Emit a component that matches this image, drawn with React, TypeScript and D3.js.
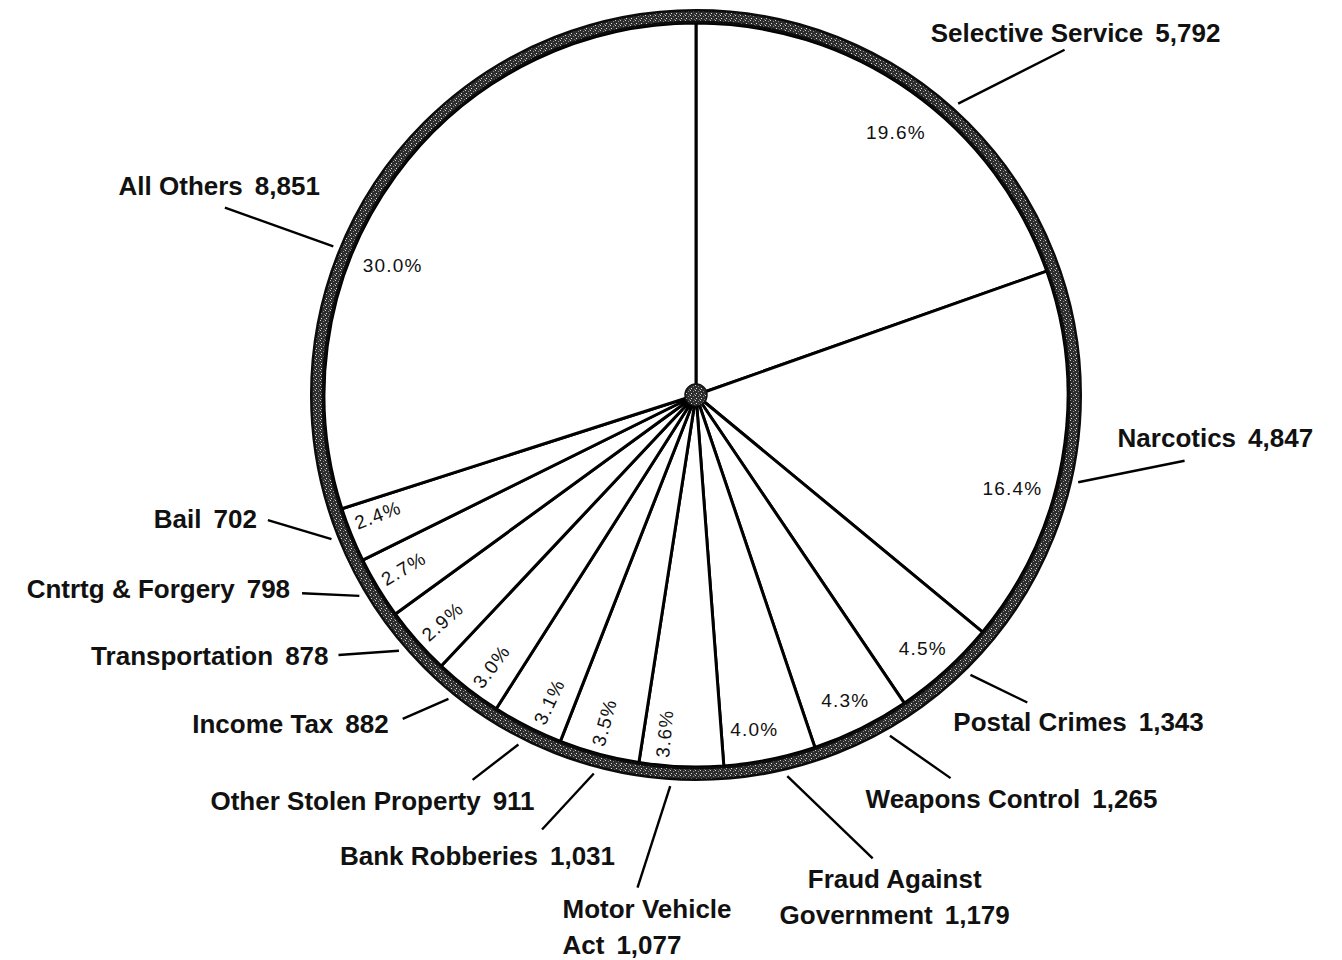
import React from 'react';
import * as d3 from 'd3';

// Offense categories, clockwise from 12 o'clock
const categories = [
    'Selective Service',
    'Narcotics',
    'Postal Crimes',
    'Weapons Control',
    'Fraud Against\nGovernment',
    'Motor Vehicle\nAct',
    'Bank Robberies',
    'Other Stolen Property',
    'Income Tax',
    'Transportation',
    'Cntrtg & Forgery',
    'Bail',
    'All Others',
];

const counts = [5792, 4847, 1343, 1265, 1179, 1077, 1031, 911, 882, 878, 798, 702, 8851];

// percentages as printed on the chart
const pctLabels = ['19.6', '16.4', '4.5', '4.3', '4.0', '3.6', '3.5', '3.1', '3.0', '2.9', '2.7', '2.4', '30.0'];

// Label layout (annotation placement around the rim)
const leaderShift = [6.7, 2.8, -2.2, -3.3, -2, 1.5, 0, 0, 1.3, 0.7, 0.4, 0.5, -13.8];
const leaderEndShift = [11.6, -2.4, -4.9, -7.25, -9.4, 4.5, 4.4, 3.2, 4.3, 5.4, 4.5, 5.8, -14.4];
const leaderEndRadius = [505, 493, 452, 460, 496, 496, 461, 445, 437, 442, 441, 446, 507];
const textOffset: [number, number][] = [
    [11, -8], [-67, -14], [-74, 29], [-85, 30], [22, 30], [-75, 30], [73, 35],
    [62, 30], [-14, 14], [-10, 10], [-12, 5], [-11, 8], [95, -13],
];
const textAnchor = ['middle', 'start', 'start', 'start', 'middle', 'start', 'end', 'end', 'end', 'end', 'end', 'end', 'end'];
const pctShift = [2, 6.4, 0.4, 0.3, 1.6, 3, 0.5, -1.4, -0.9, -0.4, 0.5, 1.4, -12.9];

const W = 1342;
const H = 960;
const cx = 696;
const cy = 395;
const pieR = 372;
const ringW = 14;

const rad = (deg: number) => (deg * Math.PI) / 180;
const polar = (a: number, r: number): [number, number] => [cx + r * Math.sin(a), cy - r * Math.cos(a)];

const labelFont = '"Liberation Sans", Arial, sans-serif';

const App: React.FC = () => {
    const pie = d3.pie<number>().sort(null).value(d => d).startAngle(0).endAngle(2 * Math.PI);
    const arcs = pie(counts);
    const arc = d3.arc<d3.PieArcDatum<number>>().innerRadius(0).outerRadius(pieR);
    const fmt = d3.format(',');

    return (
        <svg width={W} height={H} style={{ position: 'absolute', left: 0, top: 0, background: '#fff' }}>
            <defs>
                <pattern id="stipple" width="5" height="5" patternUnits="userSpaceOnUse">
                    <rect width="5" height="5" fill="#2e2e2e" />
                    <rect x="0" y="0" width="1" height="1" fill="#cfcfcf" />
                    <rect x="3" y="1" width="1" height="1" fill="#8a8a8a" />
                    <rect x="1" y="3" width="1" height="1" fill="#e0e0e0" />
                    <rect x="4" y="4" width="1" height="1" fill="#777" />
                </pattern>
            </defs>

            {/* slices */}
            <g transform={`translate(${cx},${cy})`}>
                {arcs.map((a, i) => (
                    <path key={i} d={arc(a) || ''} fill="#fff" stroke="#000" strokeWidth={3} strokeLinejoin="round" />
                ))}
            </g>

            {/* rim */}
            <circle cx={cx} cy={cy} r={pieR + ringW / 2} fill="none" stroke="#0c0c0c" strokeWidth={ringW} />
            <circle cx={cx} cy={cy} r={pieR + ringW / 2} fill="none" stroke="url(#stipple)" strokeWidth={ringW - 5} />

            {/* hub */}
            <circle cx={cx} cy={cy} r={11} fill="url(#stipple)" stroke="#111" strokeWidth={1.5} />

            {/* percentage labels */}
            {arcs.map((a, i) => {
                const frac = a.value / d3.sum(counts);
                const mid = (a.startAngle + a.endAngle) / 2 + rad(pctShift[i]);
                const pct = pctLabels[i];
                const r = frac > 0.1 ? 330 : 340;
                const [x, y] = polar(mid, r);
                const rotate = +pct < 4;
                const deg = (mid * 180) / Math.PI - 270;
                return (
                    <text
                        key={i}
                        x={x}
                        y={y}
                        textAnchor="middle"
                        dominantBaseline="central"
                        fontFamily={labelFont}
                        fontSize={19}
                        letterSpacing={1.2}
                        fill="#111"
                        transform={rotate ? `rotate(${deg},${x},${y})` : undefined}
                    >
                        {pct}%
                    </text>
                );
            })}

            {/* leaders and category labels */}
            {arcs.map((a, i) => {
                const mid = (a.startAngle + a.endAngle) / 2;
                const [x0, y0] = polar(mid + rad(leaderShift[i]), pieR + ringW + 6);
                const [x1, y1] = polar(mid + rad(leaderEndShift[i]), leaderEndRadius[i]);
                const tx = x1 + textOffset[i][0];
                const ty = y1 + textOffset[i][1];
                const lines = categories[i].split('\n');
                return (
                    <g key={i}>
                        <line x1={x0} y1={y0} x2={x1} y2={y1} stroke="#000" strokeWidth={2.4} />
                        <text
                            x={tx}
                            y={ty}
                            textAnchor={textAnchor[i]}
                            fontFamily={labelFont}
                            fontWeight="bold"
                            fontSize={26}
                            fill="#111"
                        >
                            {lines.map((ln, j) => (
                                <tspan key={j} x={tx} dy={j === 0 ? 0 : 36}>
                                    {ln}
                                    {j === lines.length - 1 && <tspan dx={12}>{fmt(counts[i])}</tspan>}
                                </tspan>
                            ))}
                        </text>
                    </g>
                );
            })}
        </svg>
    );
};

export default App;
